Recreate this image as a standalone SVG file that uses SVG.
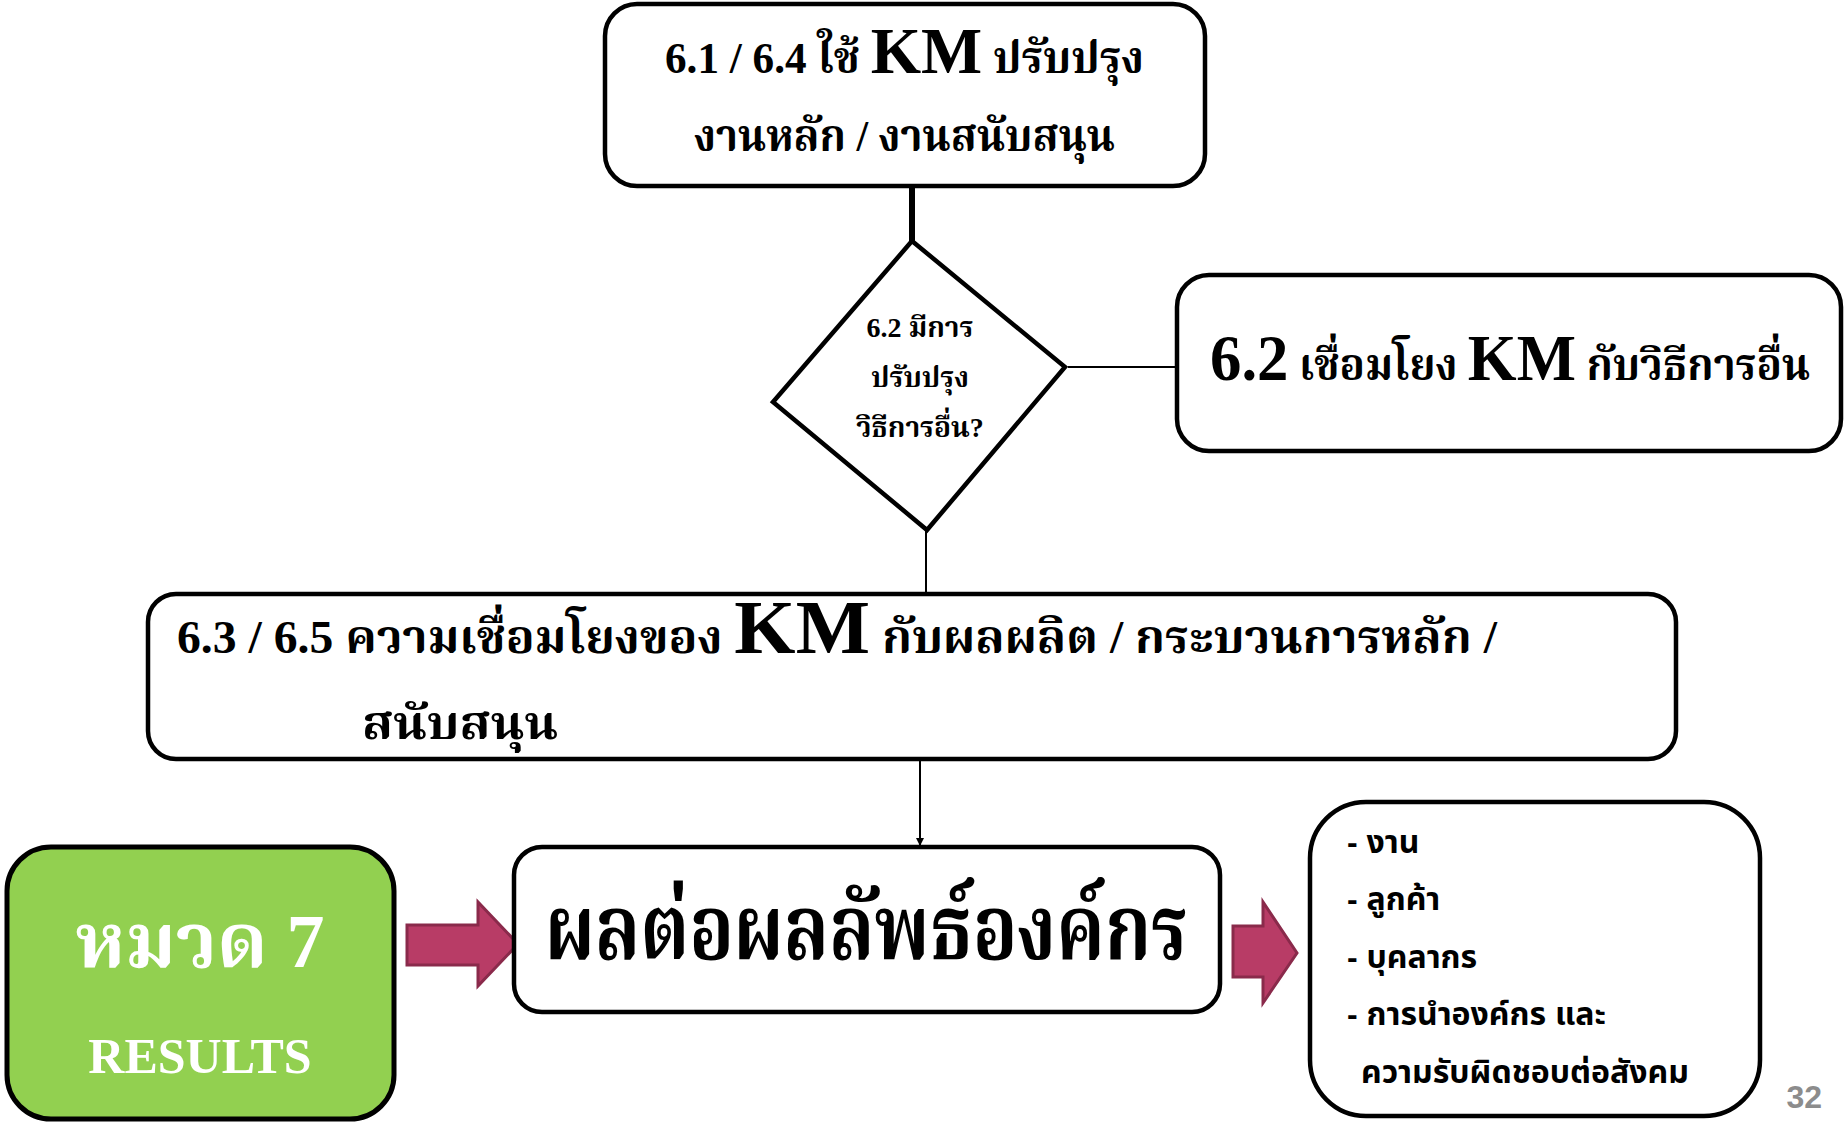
<svg xmlns="http://www.w3.org/2000/svg" width="1845" height="1122" viewBox="0 0 1845 1122">
<defs>
<style>
.box{fill:#fff;stroke:#000;stroke-width:4.5}
.th{font-family:"Liberation Serif","Noto Serif Thai","Noto Sans CJK SC",serif;font-weight:bold;fill:#000}
.ths{font-family:"Liberation Sans","Noto Sans Thai","Noto Sans",sans-serif;font-weight:bold;fill:#000}
.conn{stroke:#000;fill:none}
.parrow{fill:#B83C66;stroke:#8A2A4B;stroke-width:3}
</style>
<marker id="ah" viewBox="0 0 10 10" refX="10" refY="5" markerWidth="8" markerHeight="8" markerUnits="userSpaceOnUse" orient="auto"><path d="M0,0 L10,5 L0,10 Z" fill="#000"/></marker>
</defs>
<rect width="1845" height="1122" fill="#fff"/>
<g id="connectors">
<line class="conn" x1="912" y1="186" x2="912" y2="242" stroke-width="6"/>
<line class="conn" x1="1068" y1="367" x2="1177" y2="367" stroke-width="2"/>
<line class="conn" x1="926" y1="530" x2="926" y2="594" stroke-width="2"/>
<line class="conn" x1="920" y1="761" x2="920" y2="846" stroke-width="2" marker-end="url(#ah)"/>
<path class="parrow" d="M407,925 H478 V902 L518,944 L478,986 V965 H407 Z"/>
<path class="parrow" d="M1233,926 H1263 V902 L1297,953 L1263,1003 V977 H1233 Z"/>
</g>
<g id="n1">
<rect class="box" x="605" y="4" width="600" height="182" rx="32"/>
<text class="th" x="665" y="73" font-size="44" textLength="479" lengthAdjust="spacingAndGlyphs">6.1 / 6.4 ใช้ <tspan font-size="66">KM</tspan> ปรับปรุง</text>
<text class="th" x="694" y="151" font-size="44" textLength="421" lengthAdjust="spacingAndGlyphs">งานหลัก / งานสนับสนุน</text>
</g>
<g id="n2">
<polygon points="912,241 1065,367 927,530 773,402" fill="#fff" stroke="#000" stroke-width="4.5"/>
<text class="th" x="920" y="337" text-anchor="middle" font-size="28">6.2 มีการ</text>
<text class="th" x="920" y="387" text-anchor="middle" font-size="28">ปรับปรุง</text>
<text class="th" x="920" y="437" text-anchor="middle" font-size="28">วิธีการอื่น?</text>
</g>
<g id="n3">
<rect class="box" x="1177" y="275" width="664" height="176" rx="32"/>
<text class="th" x="1210" y="380" font-size="44" textLength="600" lengthAdjust="spacingAndGlyphs"><tspan font-size="66">6.2</tspan> เชื่อมโยง <tspan font-size="66">KM</tspan> กับวิธีการอื่น</text>
</g>
<g id="n4">
<rect class="box" x="148" y="594" width="1528" height="165" rx="28"/>
<text class="th" x="177" y="653" font-size="46" textLength="1320" lengthAdjust="spacingAndGlyphs">6.3 / 6.5 ความเชื่อมโยงของ <tspan font-size="76">KM</tspan> กับผลผลิต / กระบวนการหลัก /</text>
<text class="th" x="362" y="739" font-size="46" textLength="196" lengthAdjust="spacingAndGlyphs">สนับสนุน</text>
</g>
<g id="n5">
<rect x="7" y="847" width="387" height="272" rx="44" fill="#92D050" stroke="#000" stroke-width="5"/>
<text class="th" x="200" y="967" text-anchor="middle" font-size="76" style="fill:#fff">หมวด 7</text>
<text class="th" x="200" y="1073" text-anchor="middle" font-size="50" style="fill:#fff">RESULTS</text>
</g>
<g id="n6">
<rect class="box" x="514" y="847" width="706" height="165" rx="28"/>
<text class="th" x="545" y="959" font-size="90" textLength="643" lengthAdjust="spacingAndGlyphs">ผลต่อผลลัพธ์องค์กร</text>
</g>
<g id="n7">
<rect class="box" x="1310" y="802" width="450" height="314" rx="56"/>
<text class="ths" x="1347" y="853" font-size="32">- งาน</text>
<text class="ths" x="1347" y="910" font-size="32">- ลูกค้า</text>
<text class="ths" x="1347" y="968" font-size="32">- บุคลากร</text>
<text class="ths" x="1347" y="1025" font-size="32">- การนำองค์กร และ</text>
<text class="ths" x="1361" y="1083" font-size="32">ความรับผิดชอบต่อสังคม</text>
</g>
<text x="1822" y="1108" text-anchor="end" font-family="Liberation Sans, sans-serif" font-weight="bold" font-size="32" fill="#8C8C8C">32</text>
</svg>
